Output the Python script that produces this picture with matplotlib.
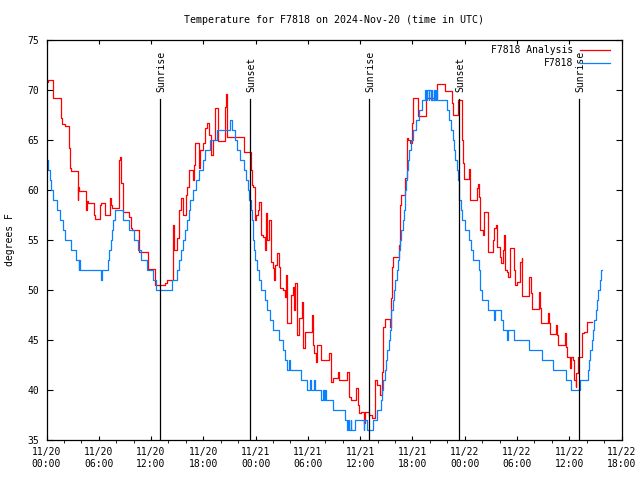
import matplotlib
matplotlib.use('Agg')
import matplotlib.pyplot as plt

# hours since 2024-11-20 00:00 UTC, deg F
analysis_pts = [
    (0.0, 70.8), (0.15, 71.0), (0.7, 69.2), (1.62, 67.2), (1.8, 66.6), (2.08, 66.4),
    (2.62, 64.2), (2.72, 62.2), (2.8, 61.9), (3.56, 59.0), (3.62, 60.3), (3.7, 59.9),
    (4.55, 58.0), (4.63, 58.9), (4.8, 58.7), (5.5, 57.5), (5.6, 57.1), (6.1, 58.5),
    (6.2, 58.7), (6.7, 57.5), (7.25, 59.2), (7.42, 58.5), (7.55, 58.2), (8.3, 63.0),
    (8.45, 63.3), (8.6, 60.7), (8.75, 57.8), (9.5, 57.3), (9.7, 56.2), (9.85, 56.0),
    (10.6, 53.8), (11.6, 52.1), (12.45, 50.5), (13.6, 50.7), (13.79, 51.0), (14.48, 53.8),
    (14.56, 56.5), (14.62, 54.0), (14.94, 55.2), (15.25, 58.0), (15.4, 59.2), (15.63, 57.5),
    (16.0, 59.5), (16.17, 60.3), (16.32, 62.0), (16.77, 61.0), (16.93, 62.5), (17.08, 64.7),
    (17.5, 62.2), (17.6, 64.0), (18.0, 64.7), (18.23, 66.2), (18.46, 66.7), (18.7, 65.5),
    (18.92, 63.5), (19.15, 65.0), (19.3, 68.2), (19.7, 64.9), (20.5, 68.3), (20.6, 69.6),
    (20.7, 65.3), (22.7, 63.8), (23.45, 62.0), (23.62, 60.5), (23.74, 60.3), (23.89, 57.0),
    (24.0, 57.5), (24.28, 58.0), (24.43, 58.8), (24.58, 55.5), (24.89, 55.3), (25.04, 54.0),
    (25.19, 57.7), (25.35, 55.0), (25.58, 57.0), (25.73, 52.8), (25.96, 52.2), (26.11, 51.0),
    (26.27, 52.5), (26.5, 53.7), (26.65, 52.3), (26.8, 50.2), (27.11, 50.0), (27.34, 49.3),
    (27.49, 51.5), (27.64, 46.7), (28.1, 49.5), (28.26, 50.3), (28.41, 48.0), (28.56, 50.7),
    (28.79, 45.5), (28.94, 47.2), (29.33, 48.8), (29.48, 44.2), (29.63, 45.8), (30.48, 47.5),
    (30.6, 44.5), (30.7, 43.7), (30.93, 42.8), (31.09, 44.5), (31.55, 43.0), (32.46, 43.7),
    (32.62, 40.8), (32.85, 41.2), (33.45, 41.8), (33.6, 41.0), (34.45, 41.8), (34.68, 39.3),
    (34.91, 39.0), (35.5, 40.2), (35.7, 38.5), (35.83, 37.7), (36.06, 37.8), (36.45, 36.7),
    (36.6, 37.8), (37.06, 37.5), (37.36, 37.2), (37.67, 41.0), (37.9, 40.5), (38.28, 39.5),
    (38.5, 41.8), (38.66, 46.3), (38.82, 47.1), (39.43, 46.3), (39.5, 49.2), (39.66, 52.3),
    (39.81, 53.3), (40.5, 54.5), (40.58, 58.5), (40.73, 59.5), (41.1, 61.2), (41.34, 65.2),
    (41.5, 65.0), (41.72, 64.7), (41.95, 66.7), (42.03, 69.2), (42.67, 67.4), (43.6, 69.2),
    (44.79, 70.6), (45.74, 69.9), (46.5, 68.7), (46.7, 67.5), (47.2, 69.0), (47.65, 66.0),
    (47.73, 65.0), (47.81, 62.7), (47.96, 61.1), (48.5, 62.1), (48.57, 60.5), (48.65, 59.0),
    (49.41, 60.2), (49.56, 60.6), (49.64, 59.3), (49.72, 57.2), (49.8, 56.0), (50.1, 55.5),
    (50.26, 57.8), (50.64, 55.7), (50.72, 53.8), (51.25, 55.0), (51.4, 56.2), (51.56, 56.5),
    (51.71, 54.3), (52.02, 53.3), (52.17, 52.7), (52.4, 54.0), (52.55, 55.5), (52.63, 52.0),
    (52.86, 51.8), (53.01, 51.3), (53.24, 54.2), (53.7, 52.0), (53.78, 50.5), (54.0, 50.8),
    (54.39, 52.8), (54.54, 53.2), (54.62, 49.4), (55.38, 51.3), (55.61, 49.7), (55.77, 48.1),
    (56.53, 49.8), (56.69, 48.2), (56.76, 46.7), (57.53, 47.7), (57.65, 46.7), (57.76, 45.6),
    (58.44, 46.5), (58.6, 45.5), (58.75, 44.5), (59.5, 45.7), (59.66, 44.3), (59.74, 43.3),
    (60.05, 42.2), (60.2, 43.3), (60.4, 43.0), (60.58, 41.0), (60.73, 40.3), (60.81, 41.7),
    (60.96, 42.2), (61.04, 43.3), (61.5, 45.7), (61.65, 45.8), (62.03, 46.8), (62.65, 46.8),
]

station_pts = [
    (0.0, 63), (0.2, 62), (0.4, 61), (0.55, 60), (0.78, 59), (1.15, 58), (1.55, 57),
    (1.93, 56), (2.16, 55), (2.8, 54), (3.35, 53), (3.7, 52), (3.75, 53), (3.85, 52),
    (6.29, 51), (6.4, 52), (7.06, 53), (7.2, 54), (7.35, 55), (7.5, 56), (7.65, 57),
    (7.82, 58), (8.74, 57), (9.51, 56), (10.04, 55), (10.5, 54), (10.89, 53), (11.5, 52),
    (12.19, 51), (12.6, 50), (14.4, 51), (14.94, 52), (15.17, 53), (15.4, 54), (15.63, 55),
    (15.86, 56), (16.17, 57), (16.3, 58), (16.47, 59), (16.85, 60), (17.16, 61), (17.47, 62),
    (18.0, 63), (18.23, 64), (18.77, 65), (19.53, 66), (21.06, 67), (21.29, 66), (21.67, 65),
    (21.9, 64), (22.21, 63), (22.67, 62), (22.9, 61), (23.13, 60), (23.3, 59), (23.44, 58),
    (23.55, 57), (23.65, 56), (23.74, 55), (23.85, 54), (23.97, 53), (24.2, 52), (24.43, 51),
    (24.66, 50), (25.12, 49), (25.35, 48), (25.65, 47), (26.04, 46), (26.65, 45), (27.19, 44),
    (27.42, 43), (27.57, 42), (27.85, 43), (27.95, 42), (29.18, 41), (29.86, 40), (30.3, 41),
    (30.4, 40), (30.75, 41), (30.85, 40), (31.55, 39), (31.7, 40), (31.8, 39), (32.0, 40),
    (32.1, 39), (32.92, 38), (34.3, 37), (34.5, 36), (34.62, 37), (34.75, 36), (34.9, 37),
    (35.0, 36), (35.37, 37), (36.4, 36), (36.5, 37), (36.75, 36), (37.51, 37), (37.9, 38),
    (38.36, 39), (38.5, 40), (38.66, 41), (38.8, 42), (38.97, 43), (39.12, 44), (39.28, 45),
    (39.43, 46), (39.5, 47), (39.58, 48), (39.73, 49), (39.89, 50), (40.04, 51), (40.19, 52),
    (40.35, 53), (40.5, 54), (40.58, 55), (40.73, 56), (40.89, 57), (41.04, 58), (41.11, 59),
    (41.19, 60), (41.27, 61), (41.34, 62), (41.5, 63), (41.65, 64), (41.88, 65), (42.11, 66),
    (42.42, 67), (42.72, 68), (43.1, 69), (43.5, 70), (43.6, 69), (43.7, 70), (43.85, 69),
    (43.95, 70), (44.1, 69), (44.2, 70), (44.3, 69), (44.45, 70), (44.55, 69), (44.75, 70),
    (44.85, 69), (46.01, 68), (46.24, 67), (46.47, 66), (46.63, 65), (46.78, 64), (46.93, 63),
    (47.08, 62), (47.2, 61), (47.3, 60), (47.4, 59), (47.55, 58), (47.7, 57), (48.04, 56),
    (48.5, 55), (48.73, 54), (48.95, 53), (49.64, 52), (49.72, 51), (49.8, 50), (49.95, 49),
    (50.64, 48), (51.33, 47), (51.48, 48), (52.17, 47), (52.4, 46), (52.86, 45), (53.0, 46),
    (53.7, 45), (55.4, 44), (56.84, 43), (58.14, 42), (59.66, 41), (60.2, 40), (61.2, 41),
    (62.2, 42), (62.27, 43), (62.42, 44), (62.58, 45), (62.73, 46), (62.88, 47), (63.04, 48),
    (63.19, 49), (63.35, 50), (63.5, 51), (63.65, 52), (63.72, 52),
]

sunrise_hours = [13.08, 37.07, 61.12]
sunset_hours = [23.37, 47.37]

tick_hours = list(range(0, 67, 6))
tick_labels = ['11/20\n00:00', '11/20\n06:00', '11/20\n12:00', '11/20\n18:00',
               '11/21\n00:00', '11/21\n06:00', '11/21\n12:00', '11/21\n18:00',
               '11/22\n00:00', '11/22\n06:00', '11/22\n12:00', '11/22\n18:00']

plt.rcParams['font.family'] = 'DejaVu Sans Mono'
plt.rcParams['font.size'] = 7.0

fig = plt.figure(figsize=(6.4, 4.8), dpi=100)
ax = fig.add_axes([46.5 / 640, 40 / 480, 575 / 640, 400 / 480])

at, av = zip(*analysis_pts)
st, sv = zip(*station_pts)
ax.plot(at, av, color='#ff0000', lw=0.9, drawstyle='steps-post', label='F7818 Analysis')
ax.plot(st, sv, color='#0a80ff', lw=0.9, drawstyle='steps-post', label='F7818')

for h in sunrise_hours:
    ax.plot([h, h], [35, 69.1], color='k', lw=0.9)
    ax.text(h + 0.15, 69.8, 'Sunrise', rotation=90, ha='center', va='bottom')
for h in sunset_hours:
    ax.plot([h, h], [35, 69.1], color='k', lw=0.9)
    ax.text(h + 0.15, 69.8, 'Sunset', rotation=90, ha='center', va='bottom')

ax.set_xlim(0, 66)
ax.set_ylim(35, 75)
ax.set_xticks(tick_hours)
ax.set_xticklabels(tick_labels)
ax.set_xticks(range(0, 67, 2), minor=True)
ax.set_yticks(range(35, 76, 5))
ax.tick_params(direction='in', top=True, right=True, colors='k')
ax.tick_params(axis='x', which='major', length=3.2, pad=5)
ax.tick_params(axis='x', which='minor', length=2)
ax.tick_params(axis='y', length=4.3, pad=5)
for s in ax.spines.values():
    s.set_linewidth(0.9)

ax.set_title('Temperature for F7818 on 2024-Nov-20 (time in UTC)', fontsize=7.2, pad=12)
fig.text(10 / 640, 0.5, 'degrees F', rotation=90, ha='center', va='center')

ax.legend(loc='upper right', bbox_to_anchor=(1 - 11.5 / 575, 1 - 5 / 400), frameon=False,
          markerfirst=False, handlelength=3.1, handletextpad=0.72, labelspacing=0.35,
          borderpad=0, borderaxespad=0)

fig.savefig('out.png', dpi=100)
